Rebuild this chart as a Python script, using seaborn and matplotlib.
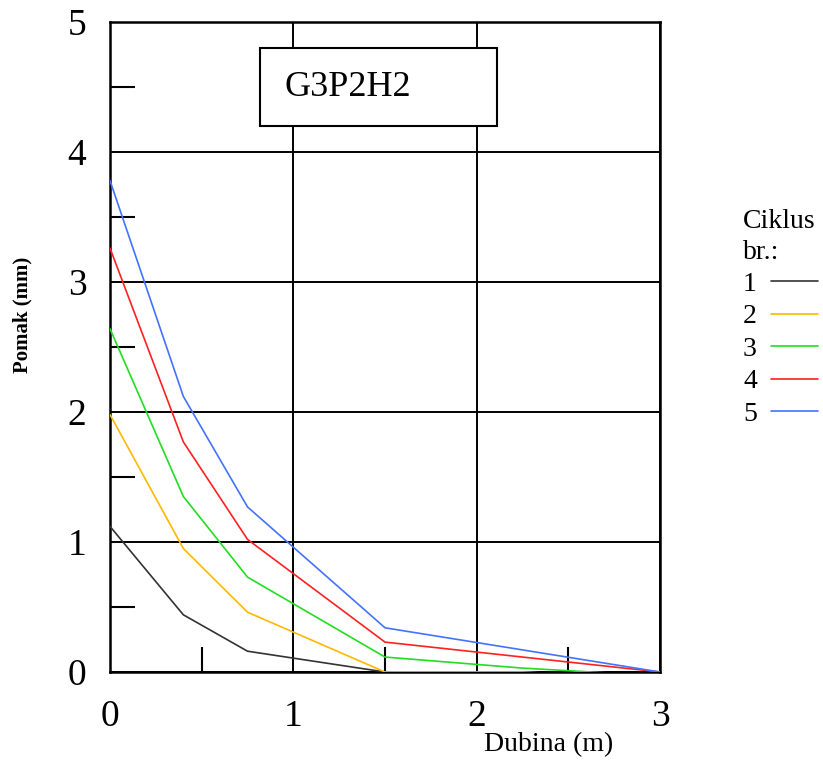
import matplotlib
matplotlib.use("Agg")
import matplotlib.pyplot as plt
from matplotlib.patches import Rectangle
import seaborn as sns
import pandas as pd

# Data
depth = [0.0, 0.4, 0.75, 1.5, 2.25, 3.0]
cycle1 = [1.12, 0.44, 0.16, 0.0, -0.01, -0.02]
cycle2 = [1.98, 0.95, 0.46, 0.0, 0.0, -0.05]
cycle3 = [2.64, 1.35, 0.73, 0.115, 0.03, -0.03]
cycle4 = [3.26, 1.77, 1.02, 0.23, 0.115, 0.0]
cycle5 = [3.78, 2.12, 1.27, 0.34, 0.17, 0.0]
cycle_labels = ["1", "2", "3", "4", "5"]
colors = ["#333333", "#FFB800", "#22DD22", "#FF2020", "#4472FF"]
x_ticks = [0, 1, 2, 3]
y_ticks = [0, 1, 2, 3, 4, 5]
title_text = "G3P2H2"

rows = []
for lab, vals in zip(cycle_labels, [cycle1, cycle2, cycle3, cycle4, cycle5]):
    for d, v in zip(depth, vals):
        rows.append({"Dubina": d, "Pomak": v, "Ciklus": lab})
df = pd.DataFrame(rows)

sns.set_style("white")
plt.rcParams["font.family"] = ["Liberation Serif", "DejaVu Serif"]
plt.rcParams["text.color"] = "black"
plt.rcParams["axes.labelcolor"] = "black"

fig = plt.figure(figsize=(8.23, 7.69), dpi=100)
ax = fig.add_axes([110 / 823, 97 / 769, 550 / 823, 650 / 769])

sns.lineplot(data=df, x="Dubina", y="Pomak", hue="Ciklus", palette=colors,
             linewidth=1.2, ax=ax, legend=True, zorder=3)

ax.set_xlim(0, 3)
ax.set_ylim(0, 5)
ax.set_xticks(x_ticks)
ax.set_yticks(y_ticks)
ax.set_xticks([0.5, 1.5, 2.5], minor=True)
ax.set_yticks([0.5, 1.5, 2.5, 3.5, 4.5], minor=True)
ax.grid(True, which="major", color="black", linewidth=1.4, zorder=1)
ax.grid(False, which="minor")
ax.set_axisbelow(True)
for s in ax.spines.values():
    s.set_color("black")
    s.set_linewidth(1.8)
    s.set_visible(True)
ax.tick_params(which="both", bottom=True, left=True, top=False, right=False)
ax.tick_params(which="major", length=0, labelsize=27, pad=20, colors="black")
ax.tick_params(axis="y", which="major", pad=17)
ax.tick_params(which="minor", direction="in", length=18, width=1.5, color="black")

ax.set_xlabel("Dubina (m)", fontsize=20)
ax.xaxis.set_label_coords((549 - 110) / 550, -(745 - 672) / 650)
ax.xaxis.label.set_va("center")
ax.set_ylabel("Pomak (mm)", fontsize=15, fontweight="bold")
ax.yaxis.set_label_coords((22 - 110) / 550, (672 - 315) / 650)
ax.yaxis.label.set_va("center")

# Title box
ax.add_patch(Rectangle((150 / 550, 546 / 650), 237 / 550, 78 / 650,
                       transform=ax.transAxes, facecolor="white",
                       edgecolor="black", linewidth=1.5, zorder=4))
ax.text((285 - 110) / 550, (672 - 87) / 650, title_text, transform=ax.transAxes,
        fontsize=26, va="center", ha="left", zorder=5)

# Legend
handles, labels = ax.get_legend_handles_labels()
leg = ax.legend(handles, labels, title="Ciklus\nbr.:", loc="upper left",
                bbox_to_anchor=(743 / 823, 1 - 209 / 769),
                bbox_transform=fig.transFigure, frameon=False,
                fontsize=20, title_fontsize=20, markerfirst=False,
                handlelength=1.7, handletextpad=0.5, labelspacing=0.25,
                borderpad=0, borderaxespad=0, alignment="left")
for t in leg.get_texts():
    t.set_color("black")
leg.get_title().set_color("black")
leg.get_title().set_linespacing(1.3)

fig.savefig("out.png", dpi=100)
